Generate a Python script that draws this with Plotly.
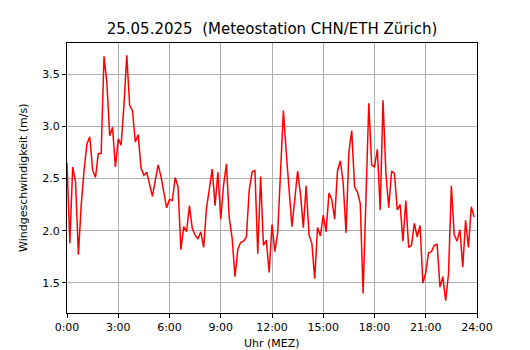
import plotly.graph_objects as go

# 10-minute wind speed values (m/s), 0:00 .. 23:50
wind = [
    2.65, 1.88, 2.61, 2.47, 1.77, 2.25, 2.58, 2.83, 2.90, 2.58, 2.51, 2.74,
    2.74, 3.67, 3.42, 2.91, 2.99, 2.61, 2.88, 2.82, 3.20, 3.68, 3.20, 3.15,
    2.85, 2.92, 2.60, 2.53, 2.56, 2.45, 2.33, 2.48, 2.63, 2.52, 2.38, 2.22,
    2.30, 2.29, 2.51, 2.42, 1.82, 2.04, 1.99, 2.24, 2.02, 1.96, 1.92, 1.99,
    1.84, 2.22, 2.40, 2.59, 2.24, 2.56, 2.11, 2.44, 2.64, 2.12, 1.93, 1.56,
    1.82, 1.89, 1.90, 1.94, 2.39, 2.56, 2.58, 1.78, 2.52, 1.86, 1.91, 1.60,
    2.06, 1.80, 1.98, 2.55, 3.15, 2.75, 2.36, 2.04, 2.30, 2.57, 2.35, 2.03,
    2.43, 1.96, 1.88, 1.54, 2.03, 1.95, 2.15, 1.99, 2.36, 2.30, 2.11, 2.57,
    2.67, 2.46, 1.98, 2.75, 2.96, 2.42, 2.37, 2.26, 1.40, 2.35, 3.22, 2.63,
    2.61, 2.78, 2.20, 3.25, 2.55, 2.22, 2.57, 2.55, 2.20, 2.25, 1.90, 2.29,
    1.84, 1.86, 2.07, 1.94, 2.05, 1.50, 1.60, 1.79, 1.80, 1.86, 1.87, 1.46,
    1.56, 1.33, 1.59, 2.43, 1.96, 1.90, 2.01, 1.65, 2.10, 1.84, 2.23, 2.13,
]
hours = [m / 60 for m in range(0, 24 * 60, 10)]

x_tick_vals = [0, 3, 6, 9, 12, 15, 18, 21, 24]
x_tick_text = ["0:00", "3:00", "6:00", "9:00", "12:00", "15:00", "18:00", "21:00", "24:00"]
y_tick_vals = [1.5, 2.0, 2.5, 3.0, 3.5]

title_text = "25.05.2025  (Meteostation CHN/ETH Zürich)"
x_title = "Uhr (MEZ)"
y_title = "Windgeschwindigkeit (m/s)"

ymin, ymax = min(wind), max(wind)
pad = (ymax - ymin) * 0.05

fig = go.Figure(
    go.Scatter(x=hours, y=wind, mode="lines",
               line=dict(color="#ff0000", width=1.5), hoverinfo="x+y")
)

font = "DejaVu Sans, sans-serif"
axis_common = dict(
    showline=True, linecolor="black", linewidth=1, mirror=True,
    ticks="outside", ticklen=4, tickcolor="black", tickwidth=1,
    showgrid=True, gridcolor="#b0b0b0", gridwidth=1, zeroline=False,
    automargin=False,
    tickfont=dict(family=font, size=11, color="black"),
)

# page body adds an 8px offset, so the figure is 8px smaller on each axis
W, H = 522, 342
L, R, T, B = 59, 53, 35, 37
OFF = 8

fig.update_layout(
    width=W, height=H,
    margin=dict(l=L, r=R, t=T, b=B),
    paper_bgcolor="white", plot_bgcolor="white",
    showlegend=False,
    title=dict(text=title_text, x=0.5, xref="paper", xanchor="center",
               y=1 - (29 - OFF) / H, yref="container", yanchor="middle",
               font=dict(family=font, size=15, color="black")),
    xaxis=dict(range=[0, 24], tickvals=x_tick_vals, ticktext=x_tick_text,
               **axis_common),
    yaxis=dict(range=[ymin - pad, ymax + pad], tickvals=y_tick_vals,
               tickformat=".1f", **axis_common),
    annotations=[
        dict(text=x_title, xref="paper", yref="paper", x=0.5,
             y=-((344 - OFF) - (H - B)) / (H - T - B),
             xanchor="center", yanchor="middle",
             showarrow=False, font=dict(family=font, size=11, color="black")),
        dict(text=y_title, xref="paper", yref="paper", textangle=-90,
             x=-(L - (23 - OFF)) / (W - L - R), y=0.5,
             xanchor="center", yanchor="middle",
             showarrow=False, font=dict(family=font, size=11, color="black")),
    ],
)

fig.write_html("out.html")
